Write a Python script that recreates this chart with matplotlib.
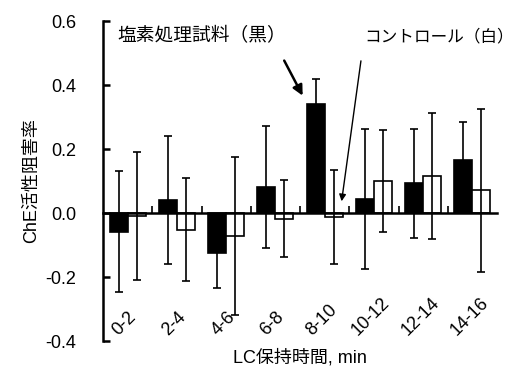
import numpy as np
import matplotlib
matplotlib.use("Agg")
import matplotlib.pyplot as plt

plt.rcParams['font.family'] = ['Liberation Sans', 'Noto Sans CJK JP']

# ── データ ──────────────────────────────────────────────
categories = ["0-2", "2-4", "4-6", "6-8", "8-10", "10-12", "12-14", "14-16"]
treated = [-0.058, 0.040, -0.125, 0.081, 0.340, 0.043, 0.093, 0.166]
treated_sd = [0.188, 0.200, 0.108, 0.190, 0.080, 0.218, 0.170, 0.117]
control = [-0.008, -0.052, -0.072, -0.018, -0.012, 0.100, 0.117, 0.071]
control_sd = [0.200, 0.162, 0.246, 0.120, 0.146, 0.159, 0.197, 0.255]
yticks = [-0.4, -0.2, 0.0, 0.2, 0.4, 0.6]

fig = plt.figure(figsize=(5.16, 3.74), dpi=100)
ax = fig.add_axes([103 / 516, 33 / 374, 394 / 516, 320 / 374])

x = np.arange(len(categories))
w = 0.367
ax.bar(x - w / 2, treated, w, color='black', edgecolor='black', linewidth=1.2)
ax.bar(x + w / 2, control, w, color='white', edgecolor='black', linewidth=1.2)
ax.errorbar(x - w / 2, treated, yerr=treated_sd, fmt='none', ecolor='black',
            elinewidth=1.2, capsize=3, capthick=1.2)
ax.errorbar(x + w / 2, control, yerr=control_sd, fmt='none', ecolor='black',
            elinewidth=1.2, capsize=3, capthick=1.2)

# 軸
ax.set_xlim(-0.5, len(categories) - 0.5)
ax.set_ylim(-0.4, 0.6)
ax.set_yticks(yticks)
ax.set_yticklabels([f"{v:.1f}" for v in yticks])
for s in ['top', 'right']:
    ax.spines[s].set_visible(False)
ax.spines['left'].set_linewidth(1.8)
ax.spines['bottom'].set_position(('data', 0))
ax.spines['bottom'].set_linewidth(1.8)
ax.tick_params(axis='y', direction='in', length=5, width=1.8, pad=19, labelsize=13)
ax.set_xticks(x[:-1] + 0.5)
ax.set_xticklabels([])
ax.tick_params(axis='x', direction='in', length=5, width=1.2)

for i, c in enumerate(categories):
    ax.text(i - 0.06, -0.392, c, rotation=45, ha='center', va='bottom', fontsize=13)

ax.set_ylabel('ChE活性阻害率', fontsize=13, labelpad=4)
fig.text(300 / 516, 1 - 358 / 374, 'LC保持時間, min', ha='center', va='center', fontsize=13)

# 注釈
ax.text(-0.214, 0.553, '塩素処理試料（黒）', ha='left', va='center', fontsize=13.5)
ax.annotate('', xy=(3.58, 0.359), xytext=(3.153, 0.484),
            arrowprops=dict(arrowstyle='-|>', color='black', lw=1.8, mutation_scale=15))
ax.text(4.80, 0.553, 'コントロール（白）', ha='left', va='center', fontsize=12)
ax.annotate('', xy=(4.337, 0.028), xytext=(4.745, 0.484),
            arrowprops=dict(arrowstyle='-|>', color='black', lw=1.0, mutation_scale=10))

fig.savefig('out.png', dpi=100)
